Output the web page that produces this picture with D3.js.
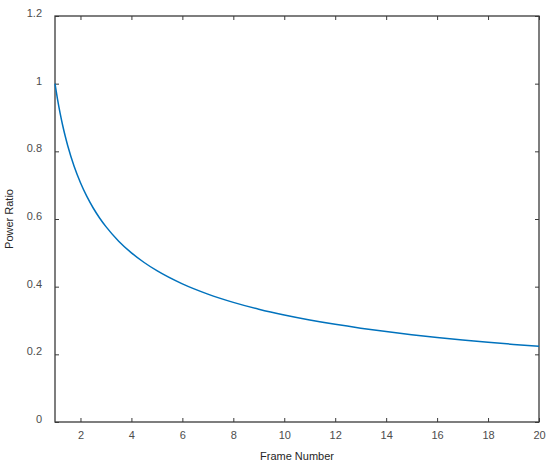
<!DOCTYPE html>
<html>
<head>
<meta charset="utf-8">
<script src="https://cdn.jsdelivr.net/npm/d3@7"></script>
<style>
  body { margin: 0; background: #fff; }
  text { font-family: "Liberation Sans", Arial, sans-serif; }
</style>
</head>
<body>
<svg id="chart" width="550" height="470"></svg>
<script>
const frames = [1, 1.1, 1.2, 1.3, 1.4, 1.5, 1.75, 2, 2.25, 2.5, 2.75, 3, 3.5, 4, 4.5, 5, 6, 7, 8, 9, 10, 11, 12, 13, 14, 15, 16, 17, 18, 19, 20];
const powerRatio = [1, 0.9535, 0.9129, 0.8771, 0.8452, 0.8165, 0.7559, 0.7071, 0.6667, 0.6325, 0.6030, 0.5774, 0.5345, 0.5, 0.4714, 0.4472, 0.4082, 0.3780, 0.3536, 0.3333, 0.3162, 0.3015, 0.2887, 0.2774, 0.2673, 0.2582, 0.25, 0.2425, 0.2357, 0.2294, 0.2236];
const xTicks = [2, 4, 6, 8, 10, 12, 14, 16, 18, 20];
const yTicks = [0, 0.2, 0.4, 0.6, 0.8, 1, 1.2];
const xLabel = "Frame Number";
const yLabel = "Power Ratio";

const svg = d3.select("#chart");
const L = 55, R = 539, T = 16, B = 422;
const x = d3.scaleLinear().domain([1, 20]).range([L, R]);
const y = d3.scaleLinear().domain([0, 1.2]).range([B, T]);

const axisColor = "#3a3a3a";
const labelColor = "#4d4d4d";

function style(g, hideLabels) {
  g.select(".domain").remove();
  g.selectAll(".tick line").attr("stroke", axisColor).attr("stroke-width", 1);
  g.selectAll(".tick text").attr("fill", labelColor).attr("font-size", 11)
    .attr("font-family", "'Liberation Sans', Arial, sans-serif");
  if (hideLabels) g.selectAll(".tick text").remove();
}

svg.append("g").attr("transform", `translate(0,${B})`)
  .call(d3.axisBottom(x).tickValues(xTicks).tickSize(-4).tickPadding(9).tickFormat(d3.format("d")))
  .call(g => style(g, false));
svg.append("g").attr("transform", `translate(0,${T})`)
  .call(d3.axisTop(x).tickValues(xTicks).tickSize(-4))
  .call(g => style(g, true));
svg.append("g").attr("transform", `translate(${L},0)`)
  .call(d3.axisLeft(y).tickValues(yTicks).tickSize(-4).tickPadding(13).tickFormat(d => d3.format("~g")(d)))
  .call(g => { style(g, false); g.selectAll(".tick text").attr("dy", "0.05em"); });
svg.append("g").attr("transform", `translate(${R},0)`)
  .call(d3.axisRight(y).tickValues(yTicks).tickSize(-4))
  .call(g => style(g, true));

svg.append("rect").attr("x", L).attr("y", T).attr("width", R - L).attr("height", B - T)
  .attr("fill", "none").attr("stroke", axisColor).attr("stroke-width", 1.3);

const line = d3.line().x((d, i) => x(frames[i])).y(d => y(d)).curve(d3.curveMonotoneX);
svg.append("path").datum(powerRatio).attr("d", line)
  .attr("fill", "none").attr("stroke", "#0072BD").attr("stroke-width", 1.5);

svg.append("text").attr("x", (L + R) / 2).attr("y", 460).attr("text-anchor", "middle")
  .attr("font-size", 11).attr("fill", "#262626").text(xLabel);
svg.append("text").attr("transform", `translate(13,${(T + B) / 2}) rotate(-90)`)
  .attr("text-anchor", "middle").attr("font-size", 11).attr("fill", "#262626").text(yLabel);
</script>
</body>
</html>
